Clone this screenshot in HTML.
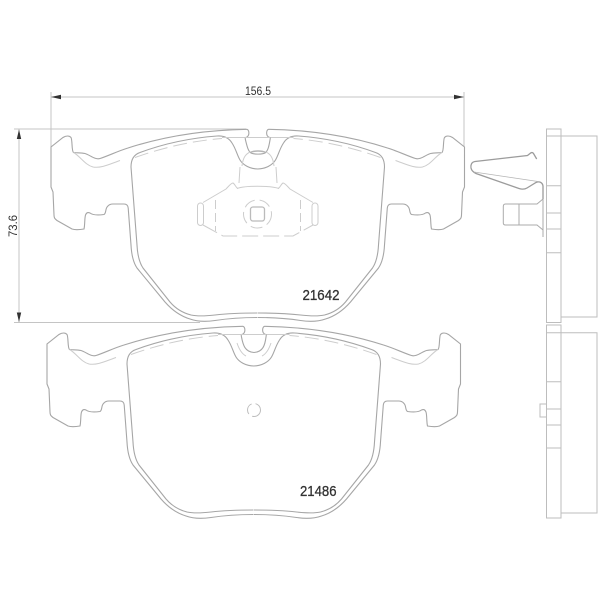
<!DOCTYPE html>
<html>
<head>
<meta charset="utf-8">
<style>
html,body{margin:0;padding:0;background:#fff}
svg{display:block}
text{font-family:"Liberation Sans",sans-serif;fill:#333}
</style>
</head>
<body>
<svg width="600" height="600" viewBox="0 0 600 600" xmlns="http://www.w3.org/2000/svg">
<defs>
<filter id="b" x="-5%" y="-5%" width="110%" height="110%"><feGaussianBlur stdDeviation="0.35"/></filter>
<g id="half" fill="none">
  <path d="M247 129.3C205 130 165 136 128 148C118 151 108 156 100 158.500C95 160 90 155 85 153.500C81 152.500 76 153 73.500 152.500C71.500 151 72.500 140 71 137.500C69.500 135.500 66 135.500 63 137.500L51 147V187L53 192L54 215C54 218 55 219 57 220.500L72 229C75 230 81 229.500 84 229C85 225 84.500 218 85.500 215C86.500 212.500 88 212 90 213C93 215.500 100 215 104 214.500C106.500 213 105 209 107.500 206.500C109 204.500 111 204 113 204H124C127 204 128 206 128.200 208L131 245C131.500 255 133 262 137 268L165 302C172 310 180 316 190 319C197 321.500 205 322 215 320.500C228 318.500 243 317.500 257.500 317.500" stroke="#a6a6a6" stroke-width="1.1"/>
  <path d="M217 136C224 135.500 229 138 232 143C236 149 237 155 240 160C243 165 250 169 258 169M131 167C131 159 134 154.500 140 152.500C163 144 190 138 217 136M131 167L137 245C137.500 255 139 262 143 268L170 302C176 309 183 313 191 315C198 316.500 206 316 215 315C228 313.500 243 313 257.500 313" stroke="#a6a6a6" stroke-width="1.1"/>
</g>
<g id="lite" fill="none" stroke="#cdcdcd" stroke-width="1">
  <path d="M73.500 152.500C80 156 85 165 93 167C101 168.500 110 164 120 160.500"/>
  <path d="M135 157.500C162 148 190 141 222 138.500" stroke-dasharray="14 6"/>
  <path d="M222 137.500H246"/>
</g>
</defs>
<g filter="url(#b)">
  <!-- dimensions -->
  <g fill="none" stroke="#c4c4c4" stroke-width="1">
    <path d="M51 92V147M464 92V147M51 97H464"/>
    <path d="M14 129H246M14 322.500H200M19 129V322"/>
    <path d="M269 129H300" stroke="none"/>
  </g>
  <path d="M51 97L61 94.800V99.200Z M464 97L454 94.800V99.200Z M19 129.500L16.800 139H21.200Z M19 322L16.800 312.500H21.200Z" fill="#333"/>

  <!-- upper pad -->
  <use href="#half"/>
  <use href="#lite"/>
  <g transform="translate(515.500,0) scale(-1,1)"><use href="#half"/><use href="#lite"/></g>
  <path d="M247 129.300C249.500 130.500 249.500 135.500 247 137C245 137.500 245 138 245.500 140C247 146 248 151 251 153C254 154.500 262 154.500 265 153C268 151 269 146 270 140C270.500 138 270.500 137.500 268.500 137C266 135.500 266 130.500 268.500 129.300" fill="none" stroke="#a6a6a6" stroke-width="1.1"/>
  <path d="M250.500 152.500C254 150.500 262 150.500 265.500 152.500" fill="none" stroke="#b5b5b5" stroke-width="1.500"/>
  <g fill="none" stroke="#cdcdcd" stroke-width="1">
    <path d="M245 137.500H270"/>
    <path d="M250 152C246 154 243 157 242 166M266 152C270 154 273 157 274 166"/>
    <path d="M240 167L239 183M276 167L277 183"/>
    <path d="M237 188.500C245 185.500 270 185.500 279 188.500"/>
    <path d="M203 202.500L226 189C229 186 231 183 233 183C235 184 236 188 238 188.500M313 202.500L290 189C287 186 285 183 283 183C281 184 280 188 278 188.500"/>
    <rect x="197.500" y="203" width="6" height="22.500" rx="3"/>
    <rect x="312" y="203" width="6" height="22.500" rx="3"/>
    <path d="M215.500 200V231M300.500 200V231" stroke-dasharray="9 4"/>
    <path d="M203 225L223 236H293L313 225" stroke-dasharray="16 5"/>
    <circle cx="257.500" cy="214" r="14" stroke-dasharray="12 5"/>
    <rect x="250.500" y="207" width="14" height="14" rx="2.500" stroke="#bbb" stroke-width="1.300"/>
  </g>

  <!-- lower pad -->
  <g transform="translate(-4,197)">
    <use href="#half"/>
    <use href="#lite"/>
    <g transform="translate(515.500,0) scale(-1,1)"><use href="#half"/><use href="#lite"/></g>
    <path d="M247 129.300C249.500 130.500 249.500 135.500 247 137C245 137.500 245 138 245.500 140C247 148 249 155 258 155.500C267 155 269 148 270 140C270.500 138 270.500 137.500 268.500 137C266 135.500 266 130.500 268.500 129.300" fill="none" stroke="#a6a6a6" stroke-width="1.1"/>
    <g fill="none" stroke="#cdcdcd" stroke-width="1">
      <path d="M245 137.500H270"/>
      <path d="M241 146C243 152 246 157 250 159M275 146C273 152 270 157 266 159"/>
    </g>
  </g>
  <circle cx="254" cy="410" r="6.500" fill="none" stroke="#bdbdbd" stroke-width="1" stroke-dasharray="12 4"/>

  <!-- clip -->
  <g fill="none" stroke="#9c9c9c">
    <path d="M536.700 159L533.500 153.500C532.500 152 531 152.500 530 153.500L527.500 155.500L475 161.500C471.500 162 470.500 165 471 168C471.500 170.500 473 172 476 173.500L519 188.500C522 189.500 524.500 189.500 527 188L536 182.500C539.500 181 542.500 182.500 543 186V199" stroke-width="1.300"/>
    <path d="M474 172L538 181.500" stroke-width="0.800" stroke="#b5b5b5"/>
  </g>
  <g fill="none" stroke="#ababab" stroke-width="1">
    <path d="M543 199L537 204H505.500C504 204 503.300 205 503.300 206.500V223C503.300 224.500 504 225 505.500 225H537L543 230V237"/>
    <path d="M519 204V225M543 199V237"/>
  </g>

  <!-- side views -->
  <g fill="none" stroke="#bdbdbd" stroke-width="1">
    <rect x="546.500" y="129" width="14.500" height="193.500"/>
    <path d="M546.500 136H561M561 136H597V317H561"/>
    <path d="M546.500 185.700H561M546.500 213H561M546.500 229H561M546.500 252.700H561"/>
    <rect x="546.500" y="325" width="14.500" height="193"/>
    <path d="M546.500 332.700H561M561 332.700H597V513H561"/>
    <path d="M546.500 381.700H561M546.500 409H561M546.500 425H561M546.500 448H561"/>
    <path d="M546.500 404H540V417H546.500"/>
  </g>
</g>

<!-- labels -->
<g filter="url(#b)">
  <text x="245" y="95" font-size="12" textLength="26" lengthAdjust="spacingAndGlyphs">156.5</text>
  <text transform="translate(17,237) rotate(-90)" font-size="12" textLength="22" lengthAdjust="spacingAndGlyphs">73.6</text>
  <text x="302.500" y="300" font-size="14.500" textLength="37" lengthAdjust="spacingAndGlyphs" stroke="#333" stroke-width="0.300">21642</text>
  <text x="300" y="496" font-size="14.500" textLength="36.500" lengthAdjust="spacingAndGlyphs" stroke="#333" stroke-width="0.300">21486</text>
</g>
</svg>
</body>
</html>
